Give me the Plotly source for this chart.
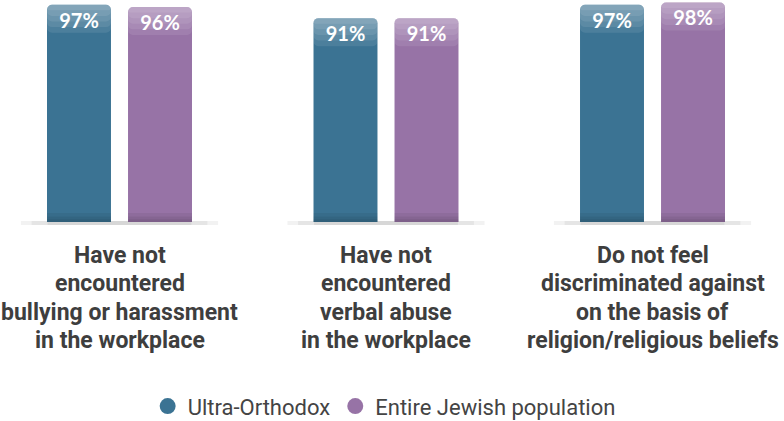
import plotly.graph_objects as go

categories = [
    "Have not<br>encountered<br>bullying or harassment<br>in the workplace",
    "Have not<br>encountered<br>verbal abuse<br>in the workplace",
    "Do not feel<br>discriminated against<br>on the basis of<br>religion/religious beliefs",
]
series_names = ["Ultra-Orthodox", "Entire Jewish population"]
ultra_orthodox = [97, 91, 97]
entire_jewish = [96, 91, 98]

colors = ["#3B7393", "#9773A6"]
x = [0, 1, 2]
BAR_W = 0.24
offsets = [-0.272, 0.032]

fig = go.Figure()

for vals, name, col, off in zip([ultra_orthodox, entire_jewish], series_names, colors, offsets):
    # main bar
    fig.add_trace(go.Bar(x=x, y=vals, width=BAR_W, offset=off,
                         marker=dict(color=col, line=dict(width=0), cornerradius=5),
                         showlegend=False, hoverinfo="skip"))
    # glossy top band (layers of translucent white)
    for h in [12.5, 10, 7.5, 5, 2.5]:
        fig.add_trace(go.Bar(x=x, y=[h] * 3, base=[v - h for v in vals], width=BAR_W, offset=off,
                             marker=dict(color="rgba(255,255,255,0.09)", line=dict(width=0), cornerradius=5),
                             showlegend=False, hoverinfo="skip"))
    # darker bottom
    for h in [4, 2.5, 1.2]:
        fig.add_trace(go.Bar(x=x, y=[h] * 3, width=BAR_W, offset=off,
                             marker=dict(color="rgba(0,0,0,0.06)", line=dict(width=0), cornerradius=0),
                             showlegend=False, hoverinfo="skip"))
    # value labels
    fig.add_trace(go.Bar(x=x, y=vals, width=BAR_W, offset=off,
                         marker=dict(color="rgba(0,0,0,0)", line=dict(width=0)),
                         text=[f"{v}%" for v in vals], textposition="inside",
                         insidetextanchor="end", constraintext="none",
                         textfont=dict(family="Lato", size=20, color="white", weight=700),
                         showlegend=False, hoverinfo="skip"))

# legend entries (circles)
for name, col in zip(series_names, colors):
    fig.add_trace(go.Scatter(x=[None], y=[None], mode="markers", name=name,
                             marker=dict(symbol="circle", size=20, color=col)))

shapes = []
for xi in x:
    for half, a in [(0.37, 0.05), (0.33, 0.05), (0.27, 0.06)]:
        shapes.append(dict(type="rect", xref="x", yref="y", x0=xi - half, x1=xi + half,
                           ysizemode="pixel", yanchor=0, y0=-3, y1=1,
                           fillcolor=f"rgba(0,0,0,{a})", line=dict(width=0), layer="below"))

annotations = []
LINE = 28.5
for xi, cat in zip(x, categories):
    for k, line in enumerate(cat.split("<br>")):
        annotations.append(dict(x=xi, y=0, xref="x", yref="y", text=line, showarrow=False,
                                xanchor="center", yanchor="middle", yshift=-(33 + k * LINE),
                                font=dict(family="Roboto", size=23, color="#3E3E3E", weight=700)))

fig.update_layout(
    width=784, height=421, autosize=False,
    margin=dict(l=0, r=0, t=0, b=191),
    paper_bgcolor="white", plot_bgcolor="white",
    barmode="overlay",
    xaxis=dict(range=[-0.4484, 2.4934], showticklabels=False, showgrid=False,
               zeroline=False, showline=False, fixedrange=True),
    yaxis=dict(range=[-3.571, 99.107], visible=False, showgrid=False, zeroline=False),
    showlegend=True,
    legend=dict(orientation="h", xref="container", yref="container",
                x=0.49, xanchor="center", y=0.035, yanchor="middle",
                font=dict(family="Roboto", size=22, color="#444444"),
                itemsizing="trace", bgcolor="rgba(0,0,0,0)"),
    shapes=shapes,
    annotations=annotations,
)

fig.write_html("out.html", config={"displayModeBar": False},
               post_script="document.body.style.margin='0px';document.body.style.overflow='hidden';")
